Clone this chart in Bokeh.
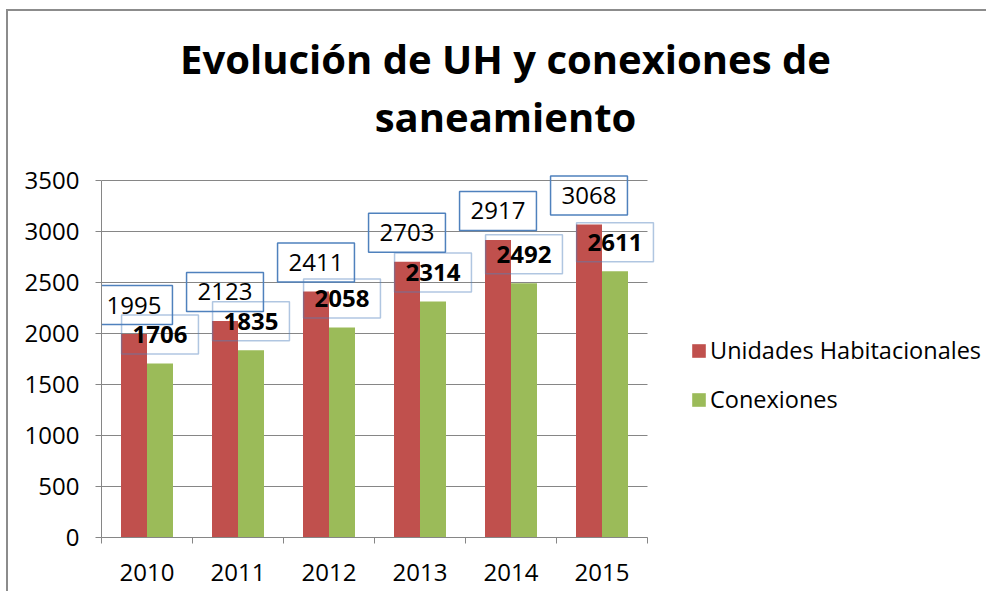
from bokeh.plotting import figure
from bokeh.models import FixedTicker, Range1d, Legend, LegendItem, Label
from bokeh.core.properties import value
from bokeh.embed import file_html
from bokeh.resources import INLINE

years = ["2010", "2011", "2012", "2013", "2014", "2015"]
unidades = [1995, 2123, 2411, 2703, 2917, 3068]
conexiones = [1706, 1835, 2058, 2314, 2492, 2611]
y_ticks = [0, 500, 1000, 1500, 2000, 2500, 3000, 3500]
series_names = ["Unidades Habitacionales", "Conexiones"]
title_lines = ["Evolución de UH y conexiones de", "saneamiento"]

RED = "#c0504d"
GREEN = "#9bbb59"
GRID = "#868686"
FONT = "Open Sans"

W, H = 980, 582
LEFT, BOTTOM = 93, 56
PX_PER_CAT = 91.0           # width of one category slot in pixels
PX_PER_UNIT = 357.0 / 3500  # pixels per value unit
frame_w = W - LEFT
frame_h = H - BOTTOM
n = len(years)
y_max = y_ticks[-1]

# the plot frame covers the whole chart area; axes and grid are bounded to the data part
p = figure(width=W, height=H,
           x_range=Range1d(0, frame_w / PX_PER_CAT), y_range=Range1d(0, frame_h / PX_PER_UNIT),
           output_backend="svg", toolbar_location=None,
           min_border_left=LEFT, min_border_right=0, min_border_top=0, min_border_bottom=BOTTOM)
p.styles = {"border-left": "2px solid #8c8c8c", "border-top": "2px solid #8c8c8c",
            "margin-left": "6px", "margin-top": "9px"}
p.outline_line_color = None
p.background_fill_color = "white"
p.border_fill_color = "white"
p.xgrid.visible = False
p.ygrid.visible = False

# horizontal grid lines over the category area
p.segment(x0=[0] * len(y_ticks), x1=[n] * len(y_ticks), y0=y_ticks, y1=y_ticks,
          line_color=GRID, line_width=1)

# bars: gap width 150%
bw = 1 / 3.5
x_red = [i + 0.5 - bw / 2 for i in range(n)]
x_green = [i + 0.5 + bw / 2 for i in range(n)]

r1 = p.vbar(x=x_red, top=unidades, width=bw, fill_color=RED, line_color=None)
r2 = p.vbar(x=x_green, top=conexiones, width=bw, fill_color=GREEN, line_color=None)

# data labels
p.text(x=x_red, y=unidades, text=[str(v) for v in unidades], text_align="center",
       text_baseline="middle", y_offset=-29, text_font=value(FONT), text_font_size="24px",
       text_color="black", border_line_color="#4f81bd", border_line_width=1.5,
       padding=11)
p.text(x=x_green, y=conexiones, text=[str(v) for v in conexiones], text_align="center",
       text_baseline="middle", y_offset=-29, text_font=value(FONT), text_font_size="24px",
       text_font_style="bold", text_color="black", border_line_color="#4f81bd",
       border_line_alpha=0.45, border_line_width=1.5, padding=11)

# axes
p.yaxis.ticker = FixedTicker(ticks=y_ticks)
p.yaxis.bounds = (0, y_max)
p.yaxis.axis_line_color = GRID
p.yaxis.major_tick_line_color = GRID
p.yaxis.major_tick_in = 0
p.yaxis.major_tick_out = 6
p.yaxis.minor_tick_line_color = None
p.yaxis.major_label_standoff = 16
p.yaxis.major_label_text_font = FONT
p.yaxis.major_label_text_font_size = "24px"
p.yaxis.major_label_text_color = "black"

centers = [i + 0.5 for i in range(n)]
p.xaxis.ticker = FixedTicker(ticks=centers, minor_ticks=list(range(n + 1)))
p.xaxis.bounds = (0, n)
p.xaxis.major_label_overrides = {c: y for c, y in zip(centers, years)}
p.xaxis.axis_line_color = GRID
p.xaxis.major_tick_line_color = None
p.xaxis.major_tick_in = 0
p.xaxis.major_tick_out = 0
p.xaxis.minor_tick_line_color = GRID
p.xaxis.minor_tick_in = 0
p.xaxis.minor_tick_out = 6
p.xaxis.major_label_standoff = 20
p.xaxis.major_label_text_font = FONT
p.xaxis.major_label_text_font_size = "24px"
p.xaxis.major_label_text_color = "black"

# title: two centred lines (screen units from the frame's bottom-left)
for txt, ty in zip(title_lines, [479, 421]):
    p.add_layout(Label(x=404, y=ty, x_units="screen", y_units="screen", text=txt,
                       text_align="center", text_baseline="alphabetic", text_font=FONT,
                       text_font_size="40px", text_font_style="bold", text_color="black"))

# legend
legend = Legend(items=[LegendItem(label=series_names[0], renderers=[r1]),
                       LegendItem(label=series_names[1], renderers=[r2])],
                location=(589, 122))
legend.border_line_color = None
legend.background_fill_alpha = 0
legend.padding = 0
legend.margin = 0
legend.spacing = 17
legend.glyph_width = 17
legend.glyph_height = 17
legend.label_height = 30
legend.label_standoff = 3
legend.label_text_font = FONT
legend.label_text_font_size = "23.5px"
legend.label_text_color = "black"
p.add_layout(legend)

open("out.html", "w").write(file_html(p, INLINE))
